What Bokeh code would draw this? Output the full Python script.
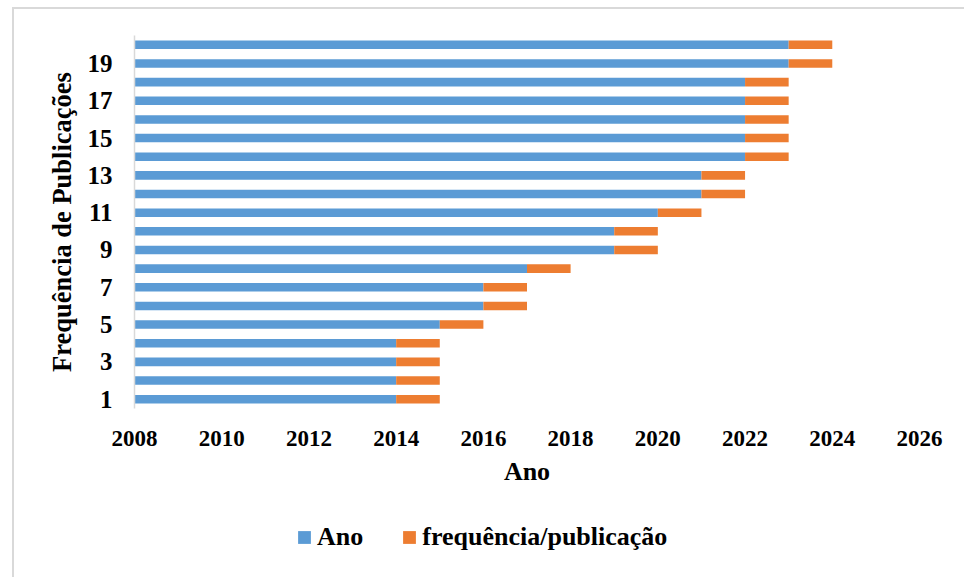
from bokeh.plotting import figure
from bokeh.models import ColumnDataSource, FixedTicker, Range1d, Legend, LegendItem
from bokeh.layouts import column
from bokeh.embed import file_html
from bokeh.resources import INLINE

# ---- data ----
categories = [1, 2, 3, 4, 5, 6, 7, 8, 9, 10, 11, 12, 13, 14, 15, 16, 17, 18, 19, 20]
ano = [2014, 2014, 2014, 2014, 2015, 2016, 2016, 2017, 2019, 2019,
       2020, 2021, 2021, 2022, 2022, 2022, 2022, 2022, 2023, 2023]
freq = [1, 1, 1, 1, 1, 1, 1, 1, 1, 1, 1, 1, 1, 1, 1, 1, 1, 1, 1, 1]
y_tick_labels = [1, 3, 5, 7, 9, 11, 13, 15, 17, 19]
x_ticks = [2008, 2010, 2012, 2014, 2016, 2018, 2020, 2022, 2024, 2026]

series_names = ["Ano", "frequência/publicação"]
colors = ["#5B9BD5", "#ED7D31"]

src = ColumnDataSource(dict(
    cat=categories,
    zero=[0] * len(categories),
    ano=ano,
    end=[a + f for a, f in zip(ano, freq)],
))

FONT = "Liberation Serif"
W = 950

p = figure(width=W, height=486, output_backend="svg", toolbar_location=None,
           x_range=Range1d(2008, 2026), y_range=Range1d(0.5, 20.5),
           min_border_left=120, min_border_right=45,
           min_border_top=26, min_border_bottom=87)

r1 = p.hbar(y="cat", left="zero", right="ano", height=0.46, source=src,
            fill_color=colors[0], line_color=None)
r2 = p.hbar(y="cat", left="ano", right="end", height=0.46, source=src,
            fill_color=colors[1], line_color=None)

p.outline_line_color = None
p.xgrid.visible = False
p.ygrid.visible = False
p.background_fill_color = "white"
p.border_fill_color = "white"

# x axis
xa = p.xaxis[0]
xa.ticker = FixedTicker(ticks=x_ticks)
xa.axis_line_color = None
xa.major_tick_line_color = None
xa.minor_tick_line_color = None
xa.major_tick_out = 0
xa.major_tick_in = 0
xa.major_label_standoff = 22
xa.major_label_text_font = FONT
xa.major_label_text_font_style = "bold"
xa.major_label_text_font_size = "23px"
xa.major_label_text_color = "black"
xa.axis_label = "Ano"
xa.axis_label_text_font = FONT
xa.axis_label_text_font_style = "bold"
xa.axis_label_text_font_size = "26px"
xa.axis_label_text_color = "black"
xa.axis_label_standoff = 8

# y axis
ya = p.yaxis[0]
ya.ticker = FixedTicker(ticks=y_tick_labels)
ya.axis_line_color = "#d9d9d9"
ya.axis_line_width = 1.5
ya.major_tick_line_color = None
ya.minor_tick_line_color = None
ya.major_tick_out = 0
ya.major_tick_in = 0
ya.major_label_standoff = 22
ya.major_label_text_font = FONT
ya.major_label_text_font_style = "bold"
ya.major_label_text_font_size = "25px"
ya.major_label_text_color = "black"
ya.axis_label = "Frequência de Publicações"
ya.axis_label_text_font = FONT
ya.axis_label_text_font_style = "bold"
ya.axis_label_text_font_size = "26.5px"
ya.axis_label_text_color = "black"
ya.axis_label_standoff = 8

# ---- legend strip (separate small figure below the chart) ----
pl = figure(width=W, height=82, output_backend="svg", toolbar_location=None,
            x_range=Range1d(0, 1), y_range=Range1d(0, 1),
            min_border_left=0, min_border_right=0,
            min_border_top=0, min_border_bottom=0)
pl.axis.visible = False
pl.grid.visible = False
pl.outline_line_color = None
pl.background_fill_color = "white"
pl.border_fill_color = "white"
# swatch renderers (placed outside the visible range; only used for legend keys)
k1 = pl.hbar(y=[-5], left=[0], right=[1], height=0.5, fill_color=colors[0], line_color=None)
k2 = pl.hbar(y=[-5], left=[0], right=[1], height=0.5, fill_color=colors[1], line_color=None)

legend = Legend(items=[LegendItem(label=series_names[0], renderers=[k1]),
                       LegendItem(label=series_names[1], renderers=[k2])],
                orientation="horizontal", location=(162, 25),
                glyph_width=16, glyph_height=16, label_standoff=5, spacing=38,
                padding=0, margin=0, border_line_color=None,
                background_fill_alpha=0,
                label_text_font=FONT, label_text_font_style="bold",
                label_text_font_size="26px", label_text_color="black")
pl.add_layout(legend, "center")

layout = column(p, pl, spacing=0)
layout.styles = {"margin-left": "12px", "margin-top": "7px",
                 "border-left": "2px solid #d9d9d9", "border-top": "2px solid #d9d9d9"}
open("out.html", "w").write(file_html(layout, INLINE))
